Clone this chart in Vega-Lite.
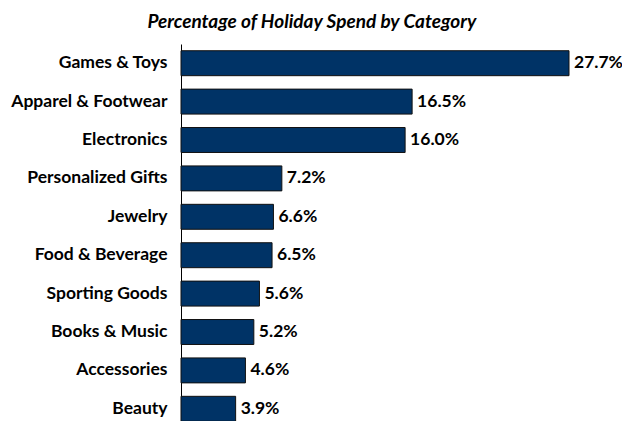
{
  "$schema": "https://vega.github.io/schema/vega-lite/v6.json",
  "autosize": "none",
  "padding": {"left": 181, "top": 44, "right": 53, "bottom": 0},
  "width": 388,
  "height": 384,
  "title": {
    "text": "Percentage of Holiday Spend by Category",
    "font": "Lato",
    "fontSize": 19,
    "fontWeight": "bold",
    "fontStyle": "italic",
    "color": "#000000",
    "anchor": "middle",
    "frame": "bounds",
    "offset": 12,
    "dx": -5
  },
  "data": {
    "values": [
      {"category": "Games & Toys", "share": 0.277},
      {"category": "Apparel & Footwear", "share": 0.165},
      {"category": "Electronics", "share": 0.160},
      {"category": "Personalized Gifts", "share": 0.072},
      {"category": "Jewelry", "share": 0.066},
      {"category": "Food & Beverage", "share": 0.065},
      {"category": "Sporting Goods", "share": 0.056},
      {"category": "Books & Music", "share": 0.052},
      {"category": "Accessories", "share": 0.046},
      {"category": "Beauty", "share": 0.039}
    ]
  },
  "encoding": {
    "y": {
      "field": "category",
      "type": "nominal",
      "sort": null,
      "scale": {"paddingInner": 0.35, "paddingOuter": 0.175},
      "axis": {
        "title": null,
        "ticks": false,
        "grid": false,
        "domainColor": "#000000",
        "domainWidth": 1,
        "labelFont": "Lato",
        "labelFontSize": 17.5,
        "labelFontWeight": "bold",
        "labelColor": "#000000",
        "labelPadding": 14,
        "labelLimit": 300
      }
    },
    "x": {
      "field": "share",
      "type": "quantitative",
      "scale": {"domain": [0, 0.277], "nice": false, "zero": true},
      "axis": null
    }
  },
  "layer": [
    {
      "mark": {"type": "bar", "color": "#003366", "stroke": "#111111", "strokeWidth": 1}
    },
    {
      "mark": {"type": "text", "align": "left", "baseline": "middle", "dx": 5, "font": "Lato", "fontSize": 17.5, "fontWeight": "bold", "color": "#000000"},
      "encoding": {
        "text": {"field": "share", "type": "quantitative", "format": ".1%"}
      }
    }
  ],
  "config": {
    "view": {"stroke": null}
  }
}
